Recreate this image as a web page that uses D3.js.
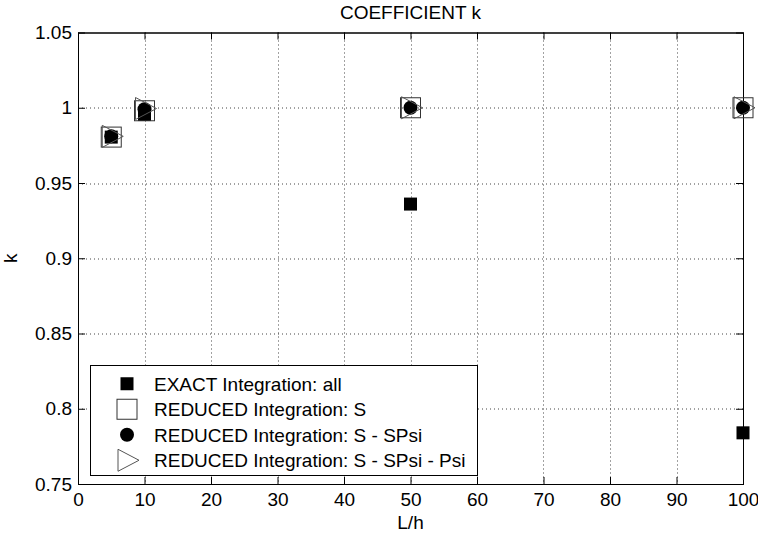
<!DOCTYPE html>
<html>
<head>
<meta charset="utf-8">
<script src="https://cdn.jsdelivr.net/npm/d3@7"></script>
<style>
  body { margin: 0; background: #fff; }
  text { font-family: "Liberation Sans", Arial, sans-serif; fill: #000; }
</style>
</head>
<body>
<div id="canvas"></div>
<script>
// data
const ratios = [5, 10, 50, 100];
const kExact = [0.9805, 0.9955, 0.936, 0.784];
const kRedS = [0.9805, 0.998, 1.0, 1.0];
const kRedSSPsi = [0.981, 0.999, 1.0, 1.0];
const kRedSSPsiPsi = [0.981, 0.9995, 1.0, 1.0];
const seriesNames = [
  "EXACT Integration: all",
  "REDUCED Integration: S",
  "REDUCED Integration: S - SPsi",
  "REDUCED Integration: S - SPsi - Psi"
];
const xTicks = [0, 10, 20, 30, 40, 50, 60, 70, 80, 90, 100];
const yTicks = [0.75, 0.8, 0.85, 0.9, 0.95, 1, 1.05];

const dims = { width: 758, height: 538 };
const margin = { top: 32.5, right: 15, bottom: 54, left: 78 };
const w = dims.width - margin.left - margin.right;
const h = dims.height - margin.top - margin.bottom;
const tickLen = 7;
const fontSize = 19;

const svg = d3
  .select("#canvas")
  .append("svg")
  .attr("width", dims.width)
  .attr("height", dims.height)
  .style("background-color", "#fff");

const graph = svg
  .append("g")
  .attr("transform", `translate(${margin.left}, ${margin.top})`);

const xScale = d3.scaleLinear().domain([0, 100]).range([0, w]);
const yScale = d3.scaleLinear().domain([0.75, 1.05]).range([h, 0]);

// dotted grid
const grid = graph.append("g").attr("class", "grid");
grid
  .selectAll("line.gx")
  .data(xTicks.slice(1, -1))
  .enter()
  .append("line")
  .attr("x1", d => Math.round(xScale(d)) + 0.5)
  .attr("x2", d => Math.round(xScale(d)) + 0.5)
  .attr("y1", 0)
  .attr("y2", h)
  .attr("stroke", "#444")
  .attr("stroke-dasharray", "1,3");
grid
  .selectAll("line.gy")
  .data(yTicks.slice(1, -1))
  .enter()
  .append("line")
  .attr("y1", d => Math.round(yScale(d)) + 0.5)
  .attr("y2", d => Math.round(yScale(d)) + 0.5)
  .attr("x1", 0)
  .attr("x2", w)
  .attr("stroke", "#444")
  .attr("stroke-dasharray", "1,3");

// axes, ticks point inwards (matlab style), box on all sides
const fmt = d => String(d);
const xAxis = d3.axisBottom(xScale).tickValues(xTicks).tickSizeInner(-tickLen).tickSizeOuter(0).tickPadding(9).tickFormat(fmt);
const xAxisTop = d3.axisTop(xScale).tickValues(xTicks).tickSizeInner(-tickLen).tickSizeOuter(0).tickFormat("");
const yAxis = d3.axisLeft(yScale).tickValues(yTicks).tickSizeInner(-tickLen).tickSizeOuter(0).tickPadding(6).tickFormat(fmt);
const yAxisRight = d3.axisRight(yScale).tickValues(yTicks).tickSizeInner(-tickLen).tickSizeOuter(0).tickFormat("");

const styleAxis = g => {
  g.selectAll("path").attr("stroke", "#000");
  g.selectAll("line").attr("stroke", "#000");
  g.selectAll("text")
    .style("font-family", '"Liberation Sans", Arial, sans-serif')
    .style("font-size", fontSize + "px")
    .attr("fill", "#000");
};

graph.append("g").attr("transform", `translate(0,${h})`).call(xAxis).call(styleAxis);
graph.append("g").call(xAxisTop).call(styleAxis);
graph.append("g").call(yAxis).call(styleAxis);
graph.append("g").attr("transform", `translate(${w},0)`).call(yAxisRight).call(styleAxis);

graph
  .append("rect")
  .attr("x", 0.5)
  .attr("y", 0.5)
  .attr("width", w)
  .attr("height", h)
  .attr("fill", "none")
  .attr("stroke", "#000");

// labels
svg
  .append("text")
  .attr("x", margin.left + w / 2)
  .attr("y", 19)
  .attr("text-anchor", "middle")
  .style("font-size", fontSize + "px")
  .text("COEFFICIENT k");

svg
  .append("text")
  .attr("x", margin.left + w / 2)
  .attr("y", 529)
  .attr("text-anchor", "middle")
  .style("font-size", fontSize + "px")
  .text("L/h");

svg
  .append("text")
  .attr("transform", `translate(17, ${margin.top + h / 2}) rotate(-90)`)
  .attr("text-anchor", "middle")
  .style("font-size", fontSize + "px")
  .text("k");

// marker drawers
const markers = [
  g => g.append("rect").attr("x", -6.5).attr("y", -6.5).attr("width", 13).attr("height", 13).attr("fill", "#000"),
  g => g.append("rect").attr("x", -10).attr("y", -10).attr("width", 20).attr("height", 20).attr("fill", "none").attr("stroke", "#333").attr("stroke-width", 1),
  g => g.append("circle").attr("r", 7).attr("fill", "#000"),
  g => g.append("path").attr("d", "M-9,-11L12,0L-9,11Z").attr("fill", "none").attr("stroke", "#555").attr("stroke-width", 1)
];

const allSeries = [kExact, kRedS, kRedSSPsi, kRedSSPsiPsi];

allSeries.forEach((vals, si) => {
  const pts = graph
    .append("g")
    .selectAll("g")
    .data(vals.map((v, i) => ({ x: ratios[i], k: v })))
    .enter()
    .append("g")
    .attr("transform", d => `translate(${xScale(d.x)}, ${yScale(d.k)})`);
  pts.each(function() {
    markers[si](d3.select(this));
  });
});

// legend
const legend = svg.append("g").attr("transform", "translate(90, 365)");
legend
  .append("rect")
  .attr("x", 0.5)
  .attr("y", 0.5)
  .attr("width", 387)
  .attr("height", 110)
  .attr("fill", "#fff")
  .attr("stroke", "#000");

const rowY = d3.scaleBand().domain(seriesNames).range([6, 108]);

seriesNames.forEach((name, si) => {
  const cy = rowY(name) + rowY.bandwidth() / 2;
  const mg = legend.append("g").attr("transform", `translate(37, ${cy})`);
  markers[si](mg);
  legend
    .append("text")
    .attr("x", 64)
    .attr("y", cy + 7)
    .style("font-size", fontSize + "px")
    .text(name);
});
</script>
</body>
</html>
